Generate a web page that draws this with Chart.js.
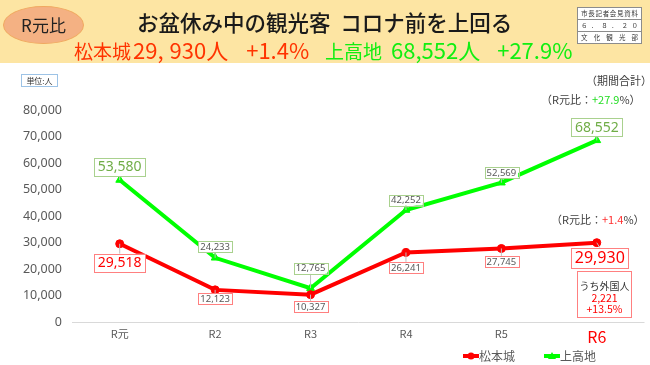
<!DOCTYPE html>
<html lang="ja">
<head>
<meta charset="utf-8">
<title>お盆休み中の観光客</title>
<script src="https://cdn.jsdelivr.net/npm/chart.js@4.4.1/dist/chart.umd.min.js"></script>
<style>
  html, body { margin: 0; padding: 0; background: #fff; }
  #wrap { position: relative; width: 650px; height: 365px; overflow: hidden;
    font-family: "Noto Sans CJK JP", "Noto Sans", sans-serif; }
  #chart { position: absolute; left: 0; top: 0; }
  .abs { position: absolute; white-space: nowrap; }
  #header { left: 0; top: 0; width: 650px; height: 63px; background: #fde5a3; }
  #badge { left: 3px; top: 6px; width: 79px; height: 36px; border-radius: 50%;
    background: #f4b183; border: 1px solid #f0a860; text-align: center;
    line-height: 36px; font-size: 17px; color: #222; }
  #title { left: 137px; top: 8px; font-size: 21.5px; font-weight: 500; color: #1a1a1a; line-height: 28px; }
  .sub { top: 35px; font-size: 19px; line-height: 28px; }
  .sub .n { font-size: 22px; }
  #sub1 { left: 74px; color: #ff3300; }
  #sub2 { left: 325px; color: #11ee11; }
  #stamp { left: 577px; top: 7px; width: 63px; background: #fff; border: 1px solid #8c8c8c; }
  #stamp div { height: 11px; line-height: 11px; font-size: 6.5px; color: #333; padding: 0 3px;
    text-align: justify; text-align-last: justify; }
  #stamp div + div { border-top: 1px solid #8c8c8c; }
  #unit { left: 21px; top: 74px; width: 35px; height: 11px; border: 1px solid #9dc3e6;
    font-size: 8px; line-height: 11px; text-align: center; color: #333; }
  .note { font-size: 11px; color: #404040; }
  #foreign { left: 577px; top: 271px; width: 55px; height: 47px; border: 1px solid #ff8080;
    text-align: center; font-size: 10px; line-height: 11.5px; padding-top: 8px; box-sizing: border-box; color: #333; }
  #foreign .red { color: #ff0000; font-size: 10.5px; }
</style>
</head>
<body>
<div id="wrap">
  <canvas id="chart" width="650" height="365"></canvas>
  <div id="header" class="abs"></div>
  <div id="badge" class="abs">R元比</div>
  <div id="title" class="abs">お盆休み中の観光客&nbsp;&nbsp;コロナ前を上回る</div>
  <div id="sub1" class="abs sub">松本城<span class="n" style="margin-left:2px">29,</span><span class="n" style="margin-left:6px">930人</span><span class="n" style="margin-left:18px">+1.4%</span></div>
  <div id="sub2" class="abs sub">上高地<span class="n" style="margin-left:9px">68,552人</span><span class="n" style="margin-left:17px">+27.9%</span></div>
  <div id="stamp" class="abs">
    <div>市長記者会見資料</div>
    <div>６．８．２０</div>
    <div>文化観光部</div>
  </div>
  <div id="unit" class="abs">単位:人</div>
  <div class="abs note" style="left:586px; top:72px;">（期間合計）</div>
  <div class="abs note" style="left:541px; top:91px;">（R元比：<span style="color:#22dd22">+27.9</span>%）</div>
  <div class="abs note" style="left:551px; top:211px;">（R元比：<span style="color:#ff3030">+1.4</span>%）</div>
  <div id="foreign" class="abs"></div>
</div>
<script>
// data
const categories = ['R元', 'R2', 'R3', 'R4', 'R5', 'R6'];
const matsumotoCastle = [29518, 12123, 10327, 26241, 27745, 29930];
const kamikochi = [53580, 24233, 12765, 42252, 52569, 68552];
const yMax = 80000;
const yStep = 10000;
const foreignVisitors = 2221;
const foreignChange = '+13.5%';

document.getElementById('foreign').innerHTML =
  'うち外国人<br><span class="red">' + foreignVisitors.toLocaleString('en-US') +
  '</span><br><span class="red">' + foreignChange + '</span>';

const RED = '#ff0000';
const GREEN = '#00ff00';

// label placement for each point (offset from the point, in px)
const labelStyle = {
  0: { dy: [19, 9, 12, 15, 13, 15], dx: [0, 0, 0, 0, 0, 3],
       big: RED, small: '#595959', border: '#ff8080', bigFont: [14, 0, 0, 0, 0, 16] },
  1: { dy: [-13, -11, -20, -10, -10, -13], dx: [0, 0, 0, 0, 0, 0],
       big: '#70ad47', small: '#595959', border: '#a9d18e', bigFont: [14, 0, 0, 0, 0, 14] }
};

const pointLabels = {
  id: 'pointLabels',
  afterDatasetsDraw(chart) {
    const ctx = chart.ctx;
    ctx.save();
    ctx.textAlign = 'center';
    ctx.textBaseline = 'middle';
    chart.data.datasets.forEach((ds, di) => {
      const st = labelStyle[di];
      chart.getDatasetMeta(di).data.forEach((pt, i) => {
        const text = ds.data[i].toLocaleString('en-US');
        const size = st.bigFont[i] || 9.5;
        ctx.font = size + 'px "Noto Sans"';
        const w = ctx.measureText(text).width + (st.bigFont[i] ? 7 : 4);
        const h = st.bigFont[i] ? size + 4 : 11;
        const cx = pt.x + st.dx[i];
        const cy = pt.y + st.dy[i];
        // leader line
        const edge = st.dy[i] > 0 ? cy - h / 2 : cy + h / 2;
        ctx.strokeStyle = '#bfbfbf';
        ctx.lineWidth = 1;
        ctx.beginPath();
        ctx.moveTo(pt.x, pt.y);
        ctx.lineTo(cx, edge);
        ctx.stroke();
        ctx.fillStyle = '#fff';
        ctx.fillRect(cx - w / 2, cy - h / 2, w, h);
        ctx.strokeStyle = st.border;
        ctx.strokeRect(Math.round(cx - w / 2) + 0.5, Math.round(cy - h / 2) + 0.5, Math.round(w), Math.round(h));
        ctx.fillStyle = st.bigFont[i] ? st.big : st.small;
        ctx.fillText(text, cx, cy + 0.5);
      });
    });
    ctx.restore();
  }
};

// legend drawn under the chart, to the right side like the original
const bottomLegend = {
  id: 'bottomLegend',
  afterDraw(chart) {
    const ctx = chart.ctx;
    let x = 463;
    const y = 356;
    ctx.save();
    ctx.font = '12px "Noto Sans CJK JP"';
    ctx.textBaseline = 'middle';
    ctx.textAlign = 'left';
    chart.data.datasets.forEach((ds) => {
      ctx.strokeStyle = ds.borderColor;
      ctx.fillStyle = ds.borderColor;
      ctx.lineWidth = 4;
      ctx.beginPath();
      ctx.moveTo(x, y);
      ctx.lineTo(x + 16, y);
      ctx.stroke();
      ctx.beginPath();
      if (ds.pointStyle === 'triangle') {
        ctx.moveTo(x + 8, y - 4);
        ctx.lineTo(x + 12, y + 3);
        ctx.lineTo(x + 4, y + 3);
        ctx.closePath();
      } else {
        ctx.arc(x + 8, y, 3.5, 0, Math.PI * 2);
      }
      ctx.fill();
      ctx.fillStyle = '#595959';
      ctx.fillText(ds.label, x + 16, y);
      x += 16 + ctx.measureText(ds.label).width + 29;
    });
    ctx.restore();
  }
};

new Chart(document.getElementById('chart'), {
  type: 'line',
  data: {
    labels: categories,
    datasets: [
      {
        label: '松本城',
        data: matsumotoCastle,
        borderColor: RED,
        backgroundColor: RED,
        borderWidth: 4,
        pointStyle: 'circle',
        pointRadius: 4,
        pointBorderWidth: 1,
        tension: 0
      },
      {
        label: '上高地',
        data: kamikochi,
        borderColor: GREEN,
        backgroundColor: GREEN,
        borderWidth: 4,
        pointStyle: 'triangle',
        pointRadius: 4.5,
        pointBorderWidth: 1,
        tension: 0
      }
    ]
  },
  options: {
    responsive: false,
    animation: false,
    layout: { padding: { top: 110, right: 0, bottom: 20, left: 0 } },
    plugins: {
      legend: { display: false },
      tooltip: { enabled: false }
    },
    scales: {
      x: {
        offset: true,
        grid: { display: false, drawTicks: false },
        border: { display: false },
        ticks: {
          padding: 5,
          color: (c) => (c.index === 5 ? RED : '#595959'),
          font: (c) => ({ family: '"Noto Sans CJK JP"', size: c.index === 5 ? 16 : 11 })
        },
        afterFit: (scale) => { scale.height = 23; }
      },
      y: {
        min: 0,
        max: yMax,
        border: { display: false },
        grid: {
          drawTicks: false,
          color: (c) => (c.tick && c.tick.value === 0 ? '#d9d9d9' : 'rgba(0,0,0,0)')
        },
        ticks: {
          stepSize: yStep,
          padding: 10,
          color: '#595959',
          font: { family: '"Noto Sans"', size: 12.5 },
          callback: (v) => v.toLocaleString('en-US')
        },
        afterFit: (scale) => { scale.width = 72; }
      }
    }
  },
  plugins: [pointLabels, bottomLegend]
});
</script>
</body>
</html>
